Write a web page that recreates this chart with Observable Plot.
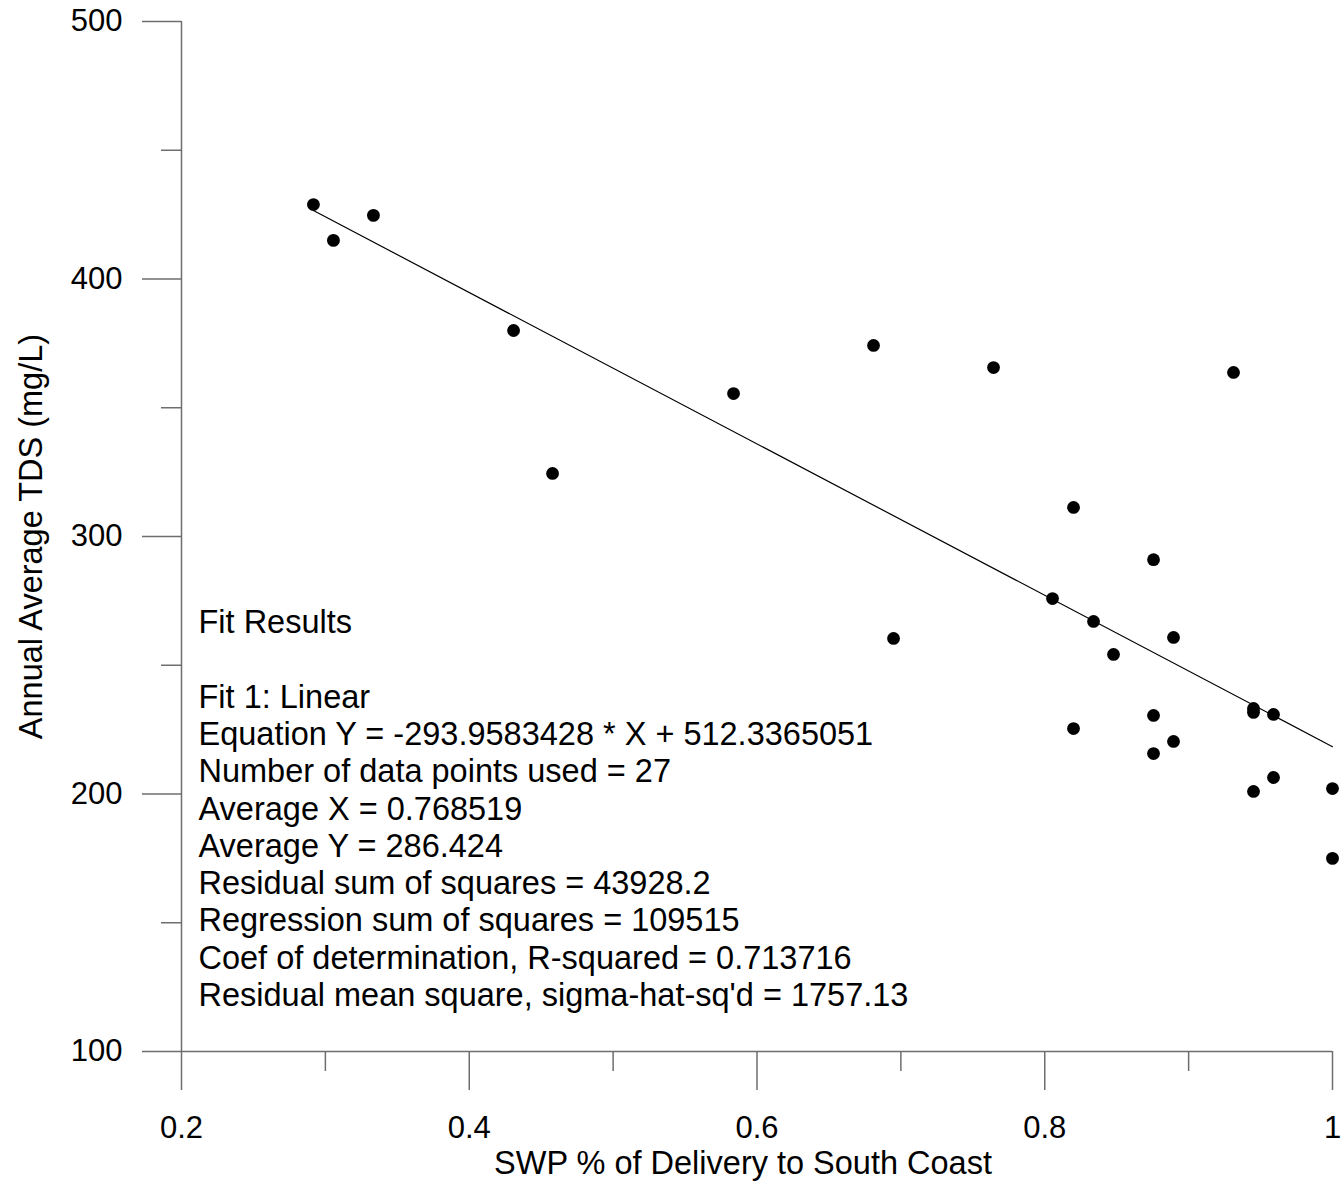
<!DOCTYPE html>
<html>
<head>
<meta charset="utf-8">
<script src="https://cdn.jsdelivr.net/npm/d3@7"></script>
<script src="https://cdn.jsdelivr.net/npm/@observablehq/plot@0.6"></script>
<style>
html, body { margin: 0; padding: 0; background: #fff; }
#chart svg { display: block; }
</style>
</head>
<body>
<div id="chart"></div>
<script>
// Data
const swpFraction = [0.2917, 0.3056, 0.3334, 0.4308, 0.4579, 0.5837, 0.6810, 0.6949, 0.7644,
  0.9312, 0.8200, 0.8756, 0.8054, 0.8339, 0.8895, 0.8478, 0.8200, 0.8756, 0.8756, 0.8895,
  0.9451, 0.9451, 0.9590, 0.9451, 0.9590, 1.0000, 1.0000];
const tdsMgL = [428.9, 415.0, 424.7, 380.0, 324.5, 355.5, 374.2, 260.4, 365.6,
  363.7, 311.3, 291.0, 275.9, 267.0, 260.8, 254.2, 225.4, 230.5, 215.7, 220.4,
  233.2, 231.7, 230.9, 201.0, 206.4, 202.1, 175.0];

const xMajorTicks = [0.2, 0.4, 0.6, 0.8, 1];
const xMinorTicks = [0.3, 0.5, 0.7, 0.9];
const yMajorTicks = [100, 200, 300, 400, 500];
const yMinorTicks = [150, 250, 350, 450];

const xTitle = "SWP % of Delivery to South Coast";
const yTitle = "Annual Average TDS (mg/L)";

const fitSlope = -293.9583428;
const fitIntercept = 512.3365051;

const fitLines = [
  "Fit Results",
  "",
  "Fit 1: Linear",
  "Equation Y = -293.9583428 * X + 512.3365051",
  "Number of data points used = 27",
  "Average X = 0.768519",
  "Average Y = 286.424",
  "Residual sum of squares = 43928.2",
  "Regression sum of squares = 109515",
  "Coef of determination, R-squared = 0.713716",
  "Residual mean square, sigma-hat-sq'd = 1757.13"
];

const points = swpFraction.map((x, i) => ({x, y: tdsMgL[i]}));
const [xMin, xMax] = d3.extent(swpFraction);
const fitLine = [xMin, xMax].map(x => ({x, y: fitSlope * x + fitIntercept}));

const axisColor = "#6e6e6e";
const font = "'Liberation Sans', Arial, sans-serif";

const chart = Plot.plot({
  width: 1343,
  height: 1183,
  marginLeft: 181,
  marginRight: 11,
  marginTop: 21,
  marginBottom: 132,
  style: {fontFamily: font, fontSize: "31px", color: "#000", background: "#fff"},
  x: {domain: [0.2, 1]},
  y: {domain: [100, 500]},
  marks: [
    Plot.ruleX([0.2], {y1: 100, y2: 500, stroke: axisColor, strokeWidth: 1.5}),
    Plot.ruleY([100], {x1: 0.2, x2: 1, stroke: axisColor, strokeWidth: 1.5}),
    Plot.axisX({ticks: xMajorTicks, tickSize: 39, tickPadding: 25, tickFormat: d => String(d),
      stroke: axisColor, strokeWidth: 1.5, label: null, fontSize: 31}),
    Plot.axisX({ticks: xMinorTicks, tickSize: 20, tickFormat: () => "",
      stroke: axisColor, strokeWidth: 1.5, label: null}),
    Plot.axisY({ticks: yMajorTicks, tickSize: 39, tickPadding: 20, tickFormat: d => String(d),
      stroke: axisColor, strokeWidth: 1.5, label: null, fontSize: 31}),
    Plot.axisY({ticks: yMinorTicks, tickSize: 20, tickFormat: () => "",
      stroke: axisColor, strokeWidth: 1.5, label: null}),
    Plot.line(fitLine, {x: "x", y: "y", stroke: "#000", strokeWidth: 1.2}),
    Plot.dot(points, {x: "x", y: "y", r: 6.4, fill: "#000", stroke: null}),
    Plot.text([fitLines.join("\n")], {frameAnchor: "top-left", dx: 17, dy: 585,
      lineAnchor: "top", lineHeight: 1.148, textAnchor: "start", fontSize: 32.5, fill: "#000"}),
    Plot.text([xTitle], {frameAnchor: "bottom", dx: -14, dy: 122, lineAnchor: "bottom",
      textAnchor: "middle", fontSize: 32.5, fill: "#000"}),
    Plot.text([yTitle], {frameAnchor: "left", dx: -150, rotate: -90, lineAnchor: "middle",
      textAnchor: "middle", fontSize: 32.5, fill: "#000"})
  ]
});
document.getElementById("chart").appendChild(chart);
</script>
</body>
</html>
